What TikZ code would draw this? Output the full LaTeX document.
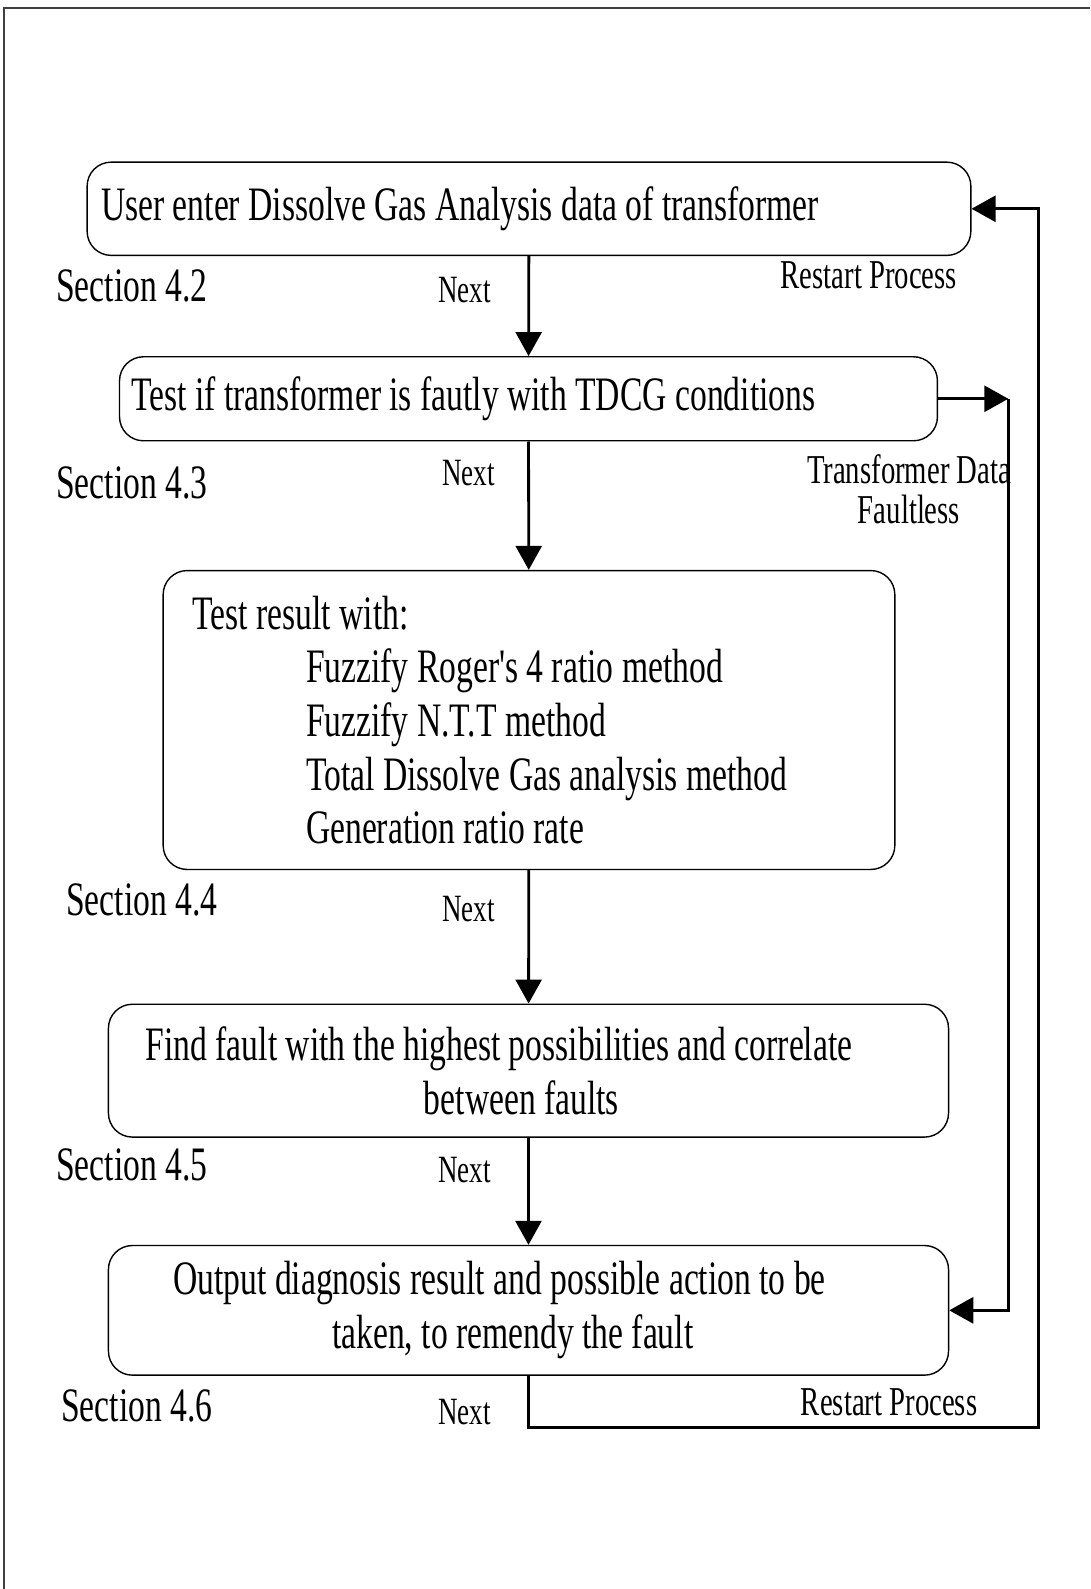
\documentclass[tikz,border=0pt]{standalone}
\usepackage{fontspec}
\setmainfont[FakeStretch=0.7, Ligatures=TeXOff]{Liberation Serif}
\usetikzlibrary{arrows.meta,positioning}
% empty box to shift a centred line to the left
\newcommand{\rpad}[1]{\hbox to #1{}}
\tikzset{
    %Define standard arrow tip
    >={Triangle[length=12pt,width=13pt]},
    %Define style for boxes
    block/.style={
           rectangle,
           rounded corners=12pt,
           draw=black,
           line width=0.7pt,
           align=left,
           execute at begin node={\spaceskip=\fontdimen2\font\xspaceskip=\fontdimen2\font},
           font=\fontsize{24}{26.85}\selectfont},
    % Define style for labels
    seclabel/.style={anchor=west, inner sep=0pt, font=\fontsize{24}{26}\selectfont},
    nextlabel/.style={anchor=west, inner sep=0pt, font=\fontsize{19.3}{20}\selectfont},
    sidelabel/.style={inner sep=0pt, align=center,
           execute at begin node={\spaceskip=\fontdimen2\font\xspaceskip=\fontdimen2\font},
           font=\fontsize{20.5}{19.8}\selectfont},
    % Define arrow style
    arrow/.style={
           ->,
           line width=1.4pt,
           }
}

\begin{document}
\begin{tikzpicture}[x=0.5065pt, y=-0.5065pt]
    \useasboundingbox (0,0) rectangle (1076,1568);
    \draw[line width=1pt, black!75] (4,1568) |- (1076,8);

    \node [block, text width=427.7pt, inner xsep=7pt, minimum height=46.6pt] (user) at (522,206)
        {User enter Dissolve Gas Analysis data of transformer};
    \node [block, text width=396.8pt, inner xsep=6pt, minimum height=42pt] (tdcg) at (521.5,393.5)
        {Test if transformer is fautly with TDCG conditions};
    \node [block, text width=336.3pt, inner xsep=14.7pt, minimum height=149.4pt] (result) at (522,710.5)
        {Test result with:\\
         \hspace*{56.7pt}Fuzzify Roger's 4 ratio method\\
         \hspace*{56.7pt}Fuzzify N.T.T method\\
         \hspace*{56.7pt}Total Dissolve Gas analysis method\\
         \hspace*{56.7pt}Generation ratio rate};
    \node [block, align=center, text width=399.9pt, inner xsep=10pt, minimum height=66.4pt] (fault) at (521.5,1056.5)
        {Find fault with the highest possibilities and correlate\rpad{29.4pt}\\ between faults\rpad{7pt}};
    \node [block, align=center, text width=399.9pt, inner xsep=10pt, minimum height=64.8pt] (output) at (521.5,1293)
        {Output diagnosis result and possible action to be\rpad{28.9pt}\\ taken, to remendy the fault\rpad{15.7pt}};

    \node [seclabel] (sec2) at (55,282) {Section 4.2};
    \node [seclabel] (sec3) at (55,477) {Section 4.3};
    \node [seclabel] (sec4) at (65,888) {Section 4.4};
    \node [seclabel] (sec5) at (55,1150) {Section 4.5};
    \node [seclabel] (sec6) at (60,1387) {Section 4.6};

    \node [nextlabel] (next1) at (432,286) {Next};
    \node [nextlabel] (next2) at (436,467) {Next};
    \node [nextlabel] (next3) at (436,897) {Next};
    \node [nextlabel] (next4) at (432,1155) {Next};
    \node [nextlabel] (next5) at (432,1393) {Next};

    \node [sidelabel, anchor=west] (restart1) at (770,272) {Restart Process};
    \node [sidelabel, anchor=west] (restart2) at (790,1384) {Restart Process};
    \node [sidelabel] (faultless) at (897,483) {Transformer Data\\ Faultless};

    \coordinate (fork) at (995,393.5);
    \coordinate (loop) at (1025,1409);

	\draw[arrow] (user) -- (tdcg);
	\draw[arrow] (tdcg) -- (result);
	\draw[arrow] (result) -- (fault);
	\draw[arrow] (fault) -- (output);
	\draw[arrow] (tdcg.east) -- (fork);
	\draw[arrow] (fork) |- (output.east);
	\draw[arrow] (output.south) |- (loop) |- (user.east);
\end{tikzpicture}
\end{document}
